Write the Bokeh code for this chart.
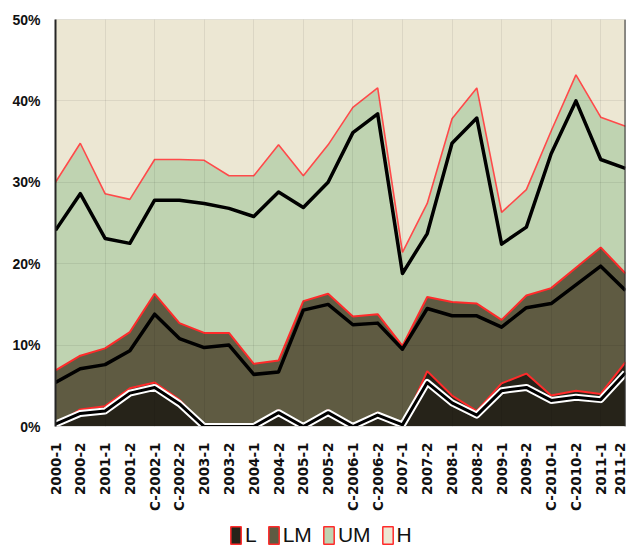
from bokeh.plotting import figure
from bokeh.layouts import column
from bokeh.models import (FixedTicker, PrintfTickFormatter, Legend, LegendItem,
                          Span, ColumnDataSource, Range1d)
from bokeh.transform import stack
from bokeh.embed import file_html
from bokeh.resources import INLINE

categories = ["2000-1", "2000-2", "2001-1", "2001-2", "C-2002-1", "C-2002-2",
              "2003-1", "2003-2", "2004-1", "2004-2", "2005-1", "2005-2",
              "C-2006-1", "C-2006-2", "2007-1", "2007-2", "2008-1", "2008-2",
              "2009-1", "2009-2", "C-2010-1", "C-2010-2", "2011-1", "2011-2"]

# layer shares (%)
L = [0.2, 2.1, 2.5, 4.7, 5.4, 3.3, 0, 0, 0, 2.0, 0, 2.0,
     0, 1.7, 0, 6.8, 3.8, 1.9, 5.3, 6.5, 3.8, 4.4, 4.0, 7.9]
LM = [6.7, 6.6, 7.1, 6.9, 10.9, 9.4, 11.5, 11.5, 7.7, 6.1, 15.4, 14.3,
      13.5, 12.1, 9.9, 9.1, 11.5, 13.2, 7.8, 9.6, 13.2, 15.1, 18.0, 10.9]
UM = [23.1, 26.1, 19.0, 16.3, 16.5, 20.1, 21.2, 19.3, 23.1, 26.5, 15.4, 18.3,
      25.7, 27.8, 11.5, 11.5, 22.5, 26.5, 13.2, 13.0, 19.3, 23.7, 16.0, 18.1]
H = [70.0, 65.2, 71.4, 72.1, 67.2, 67.2, 67.3, 69.2, 69.2, 65.4, 69.2, 65.4,
     60.8, 58.4, 78.6, 72.6, 62.2, 58.4, 73.7, 70.9, 63.7, 56.8, 62.0, 63.1]

# reference lines (cumulative %)
line_low = [0.3, 1.6, 1.9, 4.1, 4.8, 2.8, 0, 0, 0, 1.7, 0, 1.7,
            0, 1.4, 0.2, 5.4, 2.9, 1.4, 4.4, 4.8, 3.2, 3.6, 3.3, 6.6]
line_mid = [5.4, 7.1, 7.6, 9.3, 13.8, 10.8, 9.7, 10.0, 6.4, 6.7, 14.3, 15.0,
            12.5, 12.7, 9.5, 14.5, 13.6, 13.6, 12.2, 14.6, 15.1, 17.4, 19.7, 16.7]
line_top = [24.1, 28.6, 23.1, 22.5, 27.8, 27.8, 27.4, 26.8, 25.8, 28.8, 26.9, 30.0,
            36.1, 38.4, 18.8, 23.7, 34.8, 37.9, 22.4, 24.5, 33.5, 40.0, 32.8, 31.7]

y_ticks = [0, 10, 20, 30, 40, 50]
names = ["L", "LM", "UM", "H"]
colors = ["#262319", "#5f5b42", "#bfd3b1", "#ece7d3"]

x = list(range(len(categories)))
src = ColumnDataSource(dict(x=x, L=L, LM=LM, UM=UM, H=H,
                            line_low=line_low, line_mid=line_mid, line_top=line_top))

p = figure(width=627, height=521, output_backend="svg", toolbar_location=None,
           x_range=Range1d(0, len(categories) - 1), y_range=Range1d(0, 50),
           min_border_left=55, min_border_right=2, min_border_top=19,
           min_border_bottom=95)
p.background_fill_color = colors[3]
p.outline_line_color = "#d8d8d8"

p.varea_stack(names, x="x", color=colors, source=src)

red = "#ff2b2b"
p.line(x="x", y=stack("L"), source=src, line_color=red, line_width=2)
p.line(x="x", y=stack("L", "LM"), source=src, line_color=red, line_width=2)
p.line(x="x", y=stack("L", "LM", "UM"), source=src, line_color="#ff4a4a", line_width=1.6)

p.line(x="x", y="line_top", source=src, line_color="black", line_width=3.5, line_join="round")
p.line(x="x", y="line_mid", source=src, line_color="black", line_width=3.5, line_join="round")
p.line(x="x", y="line_low", source=src, line_color="white", line_width=7, line_join="round")
p.line(x="x", y="line_low", source=src, line_color="black", line_width=3, line_join="round")

p.add_layout(Span(location=len(categories) - 1, dimension="height",
                  line_color="#303030", line_width=2))

# axes
p.xaxis.ticker = FixedTicker(ticks=x)
p.xaxis.major_label_overrides = {i: c for i, c in enumerate(categories)}
p.xaxis.major_label_orientation = 3.14159265 / 2
p.xaxis.major_label_text_font = "DejaVu Sans"
p.xaxis.major_label_text_font_style = "bold"
p.xaxis.major_label_text_font_size = "13.5px"
p.xaxis.major_label_text_color = "#111111"
p.xaxis.major_label_standoff = 16
p.xaxis.major_tick_out = 0
p.xaxis.major_tick_in = 0
p.xaxis.axis_line_color = "#e0e0e0"
p.xaxis.major_tick_line_color = None
p.xaxis.minor_tick_line_color = None

p.yaxis.ticker = FixedTicker(ticks=y_ticks)
p.yaxis.formatter = PrintfTickFormatter(format="%d%%")
p.yaxis.major_label_text_font = "Liberation Sans"
p.yaxis.major_label_text_font_style = "bold"
p.yaxis.major_label_text_font_size = "14px"
p.yaxis.major_label_text_color = "#111111"
p.yaxis.major_label_standoff = 15
p.yaxis.major_tick_out = 0
p.yaxis.major_tick_in = 0
p.yaxis.axis_line_color = "#262626"
p.yaxis.axis_line_width = 2
p.yaxis.major_tick_line_color = None
p.yaxis.minor_tick_line_color = None

p.xgrid.ticker = FixedTicker(ticks=x[::2])
p.ygrid.ticker = FixedTicker(ticks=y_ticks)
for g in (p.xgrid, p.ygrid):
    g.grid_line_color = "black"
    g.grid_line_alpha = 0.07
    g.level = "guide"

# legend in its own strip below the chart
lf = figure(width=627, height=26, output_backend="svg", toolbar_location=None,
            x_axis_location=None, y_axis_location=None,
            x_range=Range1d(0, 1), y_range=Range1d(0, 1),
            min_border_left=0, min_border_right=0, min_border_top=0, min_border_bottom=0)
lf.outline_line_color = None
lf.grid.visible = False
items = []
for n, c in zip(names, colors):
    r = lf.rect(x=[float("nan")], y=[float("nan")], width=0, height=0,
                fill_color=c, line_color=red, line_width=1.5)
    items.append(LegendItem(label=n, renderers=[r]))
legend = Legend(items=items, location=(174, 0), orientation="horizontal",
                glyph_width=13, glyph_height=22, label_standoff=3, spacing=10,
                label_width=0, padding=0, margin=0, border_line_alpha=0,
                background_fill_alpha=0,
                label_text_font="Liberation Sans", label_text_font_size="21px",
                label_text_color="#111111", label_height=22)
lf.add_layout(legend)

layout = column(p, lf, spacing=0)
open("out.html", "w").write(file_html(layout, INLINE))
